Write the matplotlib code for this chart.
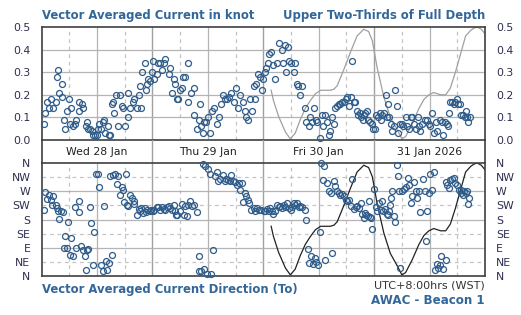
import matplotlib
matplotlib.use("Agg")
import matplotlib.pyplot as plt

# hours since Wed 28 Jan 2026 00:00 (WST)
spd_hours = [
    0.5, 0.7, 1.2, 1.5, 2.0, 2.5, 3.1, 3.3, 3.6, 3.8,
    4.4, 4.5, 4.9, 5.1, 5.6, 5.9, 6.2, 6.4, 6.9, 7.2,
    7.5, 8.0, 8.2, 8.7, 9.0, 9.6, 9.9, 10.1, 10.5, 10.9,
    11.2, 11.6, 11.9, 12.3, 12.5, 12.9, 13.2, 13.6, 13.8, 14.3,
    14.5, 14.8, 15.2, 15.4, 15.6, 16.1, 16.6, 16.9, 17.4, 17.7,
    18.1, 18.6, 18.8, 19.2, 19.7, 20.0, 20.6, 21.0, 21.2, 21.6,
    21.8, 22.3, 22.5, 22.8, 23.1, 23.5, 23.9, 24.2, 24.4, 24.9,
    25.3, 25.7, 26.0, 26.4, 26.8, 27.5, 27.8, 28.2, 28.6, 28.8,
    29.3, 29.6, 30.0, 30.4, 30.6, 31.1, 31.6, 31.8,
    32.4, 32.9, 33.1, 33.6, 34.0, 34.2, 34.6, 34.9, 35.2, 35.6,
    36.1, 36.5, 37.0, 37.4, 38.0, 38.5, 38.9, 39.3, 39.6, 40.1,
    40.5, 41.0, 41.6, 42.1, 42.6, 42.9, 43.5, 44.0, 44.3, 44.7,
    45.2, 45.5, 45.9, 46.1, 46.4, 46.8, 47.3, 47.7, 47.9, 48.3,
    48.6, 49.0, 49.3, 49.7, 50.2, 50.5, 51.0, 51.5, 52.0, 52.3,
    52.6, 52.9, 53.3, 53.6, 54.1, 54.6, 54.8, 55.3, 55.6, 56.0,
    56.4, 57.0, 57.2, 57.8, 58.2, 58.5, 58.9, 59.4, 59.7, 60.2,
    60.7, 60.9, 61.3, 61.8, 62.2, 62.5, 62.9, 63.2,
    63.6, 64.0, 64.3, 64.7, 65.1, 65.4, 65.8, 66.1, 66.5, 67.0,
    67.2, 67.6, 67.9, 68.2, 68.5, 68.9, 69.2, 69.5, 69.8, 70.1,
    70.5, 70.7, 71.2, 71.6, 71.8, 72.1, 72.5, 72.9, 73.2, 73.4,
    73.7, 74.1, 74.5, 74.7, 75.0, 75.2, 75.7, 75.9, 76.3, 76.5,
    77.0, 77.2, 77.7, 78.1, 78.3, 78.8, 79.2, 79.5, 79.9, 80.2,
    80.6, 81.0, 81.5, 81.7, 82.0, 82.4, 83.0, 83.5, 83.9, 84.2,
    84.6, 84.9, 85.3, 85.7, 86.2, 86.6, 87.0, 87.3, 87.7, 88.0,
    88.2, 88.5, 88.9, 89.3, 89.6, 89.9, 90.2, 90.6, 90.9, 91.3,
    91.6, 91.8, 92.2, 92.4, 92.7,
]
spd_knot = [
    0.07, 0.12, 0.17, 0.14, 0.18, 0.14, 0.17, 0.28, 0.31, 0.21,
    0.19, 0.25, 0.09, 0.05, 0.13, 0.18, 0.07, 0.14, 0.06, 0.07,
    0.09, 0.17, 0.13, 0.16, 0.14, 0.06, 0.08, 0.05, 0.05, 0.04,
    0.02, 0.02, 0.02, 0.05, 0.07, 0.05, 0.08, 0.09, 0.03, 0.06,
    0.02, 0.02, 0.16, 0.17, 0.12, 0.20, 0.06, 0.20, 0.15, 0.14,
    0.06, 0.10, 0.21, 0.14, 0.17, 0.18, 0.14, 0.20, 0.24, 0.14,
    0.30, 0.34, 0.22, 0.25, 0.27, 0.26, 0.30, 0.35, 0.27, 0.29,
    0.34, 0.34, 0.31, 0.34, 0.36, 0.29, 0.32, 0.21, 0.27, 0.25,
    0.18, 0.18, 0.22, 0.23, 0.28, 0.28, 0.17, 0.34,
    0.21, 0.23, 0.11, 0.05, 0.09, 0.16, 0.06, 0.03, 0.08, 0.08,
    0.10, 0.03, 0.13, 0.14, 0.07, 0.10, 0.16, 0.20, 0.18, 0.18,
    0.19, 0.21, 0.17, 0.23, 0.14, 0.20, 0.17, 0.13, 0.10, 0.09,
    0.18, 0.13, 0.24, 0.18, 0.25, 0.29, 0.28, 0.22, 0.27, 0.30,
    0.32, 0.34, 0.38, 0.39, 0.33, 0.27, 0.34, 0.43, 0.40, 0.34,
    0.42, 0.30, 0.41, 0.35, 0.34, 0.30, 0.34, 0.25, 0.24, 0.20,
    0.24, 0.14, 0.08, 0.06, 0.10, 0.08, 0.14, 0.09, 0.08, 0.01,
    0.11, 0.06, 0.11, 0.08, 0.02, 0.04, 0.10, 0.07,
    0.14, 0.15, 0.16, 0.16, 0.17, 0.17, 0.18, 0.19, 0.15, 0.19,
    0.35, 0.17, 0.17, 0.13, 0.11, 0.12, 0.10, 0.09, 0.11, 0.12,
    0.13, 0.09, 0.08, 0.07, 0.05, 0.05, 0.11, 0.10, 0.12, 0.09,
    0.11, 0.12, 0.20, 0.10, 0.16, 0.10, 0.07, 0.04, 0.06, 0.22,
    0.15, 0.03, 0.07, 0.07, 0.06, 0.10, 0.06, 0.05, 0.10, 0.10,
    0.07, 0.05, 0.10, 0.06, 0.04, 0.07, 0.09, 0.09, 0.07, 0.06,
    0.12, 0.03, 0.08, 0.04, 0.09, 0.08, 0.02, 0.08, 0.07, 0.06,
    0.12, 0.17, 0.17, 0.16, 0.17, 0.18, 0.16, 0.16, 0.11, 0.11,
    0.10, 0.13, 0.10, 0.08, 0.10,
]

dir_hours = [
    0.5, 0.7, 1.2, 1.5, 2.0, 2.2, 2.5, 3.1, 3.3, 3.6,
    3.8, 4.1, 4.6, 4.9, 5.1, 5.4, 5.8, 6.2, 6.4, 6.9,
    7.2, 7.5, 8.0, 8.2, 8.5, 8.9, 9.3, 9.6, 9.8, 10.1,
    10.5, 10.7, 11.2, 11.4, 11.8, 12.3, 12.4, 12.9, 13.2, 13.6,
    13.9, 14.2, 14.5, 14.9, 15.2, 15.5, 15.8, 16.3, 16.6, 16.9,
    17.4, 17.6, 17.9, 18.2, 18.4, 18.8, 19.2, 19.5, 19.9, 20.1,
    20.6, 21.0, 21.2, 21.5, 21.9, 22.3, 22.6, 22.9, 23.4, 23.7,
    24.1, 24.4, 24.9, 25.3, 25.7, 26.0, 26.4, 26.8, 27.1, 27.5,
    27.8, 28.2, 28.6, 28.9, 29.1, 29.4, 29.9, 30.4, 30.9, 31.1,
    31.5, 31.8, 32.2,
    32.5, 32.9, 33.6, 34.0, 34.1, 34.6, 34.9, 35.1, 35.4, 35.8,
    36.0, 36.5, 36.7, 37.2, 37.5, 38.0, 38.3, 38.7, 39.2, 39.6,
    39.9, 40.3, 40.7, 41.1, 41.4, 41.9, 42.3, 42.7, 43.0, 43.4,
    43.5, 44.0, 44.3, 44.7, 45.0, 45.4, 45.9, 46.3, 46.6, 47.0,
    47.6, 48.1, 48.4, 48.8, 49.2, 49.5, 49.9, 50.2, 50.6, 51.0,
    51.3, 51.7, 52.0, 52.4, 52.8, 53.1, 53.5, 53.9, 54.2, 54.6,
    54.9, 55.3, 55.7, 56.0, 56.4, 57.0, 57.3, 57.7, 58.0, 58.4,
    58.7, 59.1, 59.4, 59.9, 60.2, 60.6, 60.9, 61.1, 61.3, 61.8,
    62.2, 62.7, 62.9, 63.2,
    63.6, 64.0, 64.3, 64.7, 65.1, 65.4, 65.8, 66.1, 66.5, 66.9,
    67.2, 67.6, 68.0, 68.2, 68.7, 69.2, 69.4, 69.8, 70.0, 70.3,
    70.6, 70.8, 71.1, 71.4, 71.6, 71.9, 72.3, 72.6, 73.0, 73.4,
    73.7, 74.0, 74.3, 74.7, 75.0, 75.2, 75.5, 75.7, 75.9, 76.3,
    76.5, 77.0, 77.1, 77.4, 77.7, 78.1, 78.4, 78.8, 79.3, 79.5,
    79.9, 80.2, 80.6, 81.0, 81.3, 81.7, 82.0, 82.6, 83.1, 83.2,
    83.5, 83.9, 84.2, 84.6, 84.9, 85.1, 85.5, 85.9, 86.2, 86.5,
    87.0, 87.5, 87.6, 87.8, 88.2, 88.5, 88.9, 89.3, 89.6, 90.0,
    90.4, 90.7, 90.9, 91.2, 91.4, 91.8, 92.0, 92.3, 92.5,
]
dir_deg = [
    209, 268, 246, 257, 243, 227, 254, 227, 217, 206,
    183, 206, 204, 89, 126, 89, 172, 68, 121, 63,
    219, 89, 204, 238, 95, 82, 63, 18, 84, 87,
    219, 168, 34, 140, 325, 325, 282, 34, 15, 222,
    47, 18, 43, 318, 68, 321, 325, 293, 318, 257,
    284, 275, 236, 325, 227, 222, 257, 248, 238, 229,
    193, 215, 206, 217, 201, 217, 203, 211, 206, 211,
    208, 211, 219, 219, 211, 219, 215, 211, 219, 222,
    217, 211, 227, 206, 193, 193, 206, 230, 193, 222,
    190, 227, 238,
    222, 227, 204, 15, 63, 15, 357, 23, 349, 6,
    342, 325, 6, 84, 318, 331, 302, 310, 323, 304,
    310, 307, 302, 321, 304, 299, 291, 296, 275, 296,
    236, 264, 254, 243, 233, 211, 217, 206, 217, 211,
    211, 208, 206, 215, 208, 217, 206, 198, 206, 225,
    219, 222, 217, 227, 219, 233, 217, 211, 219, 233,
    225, 233, 219, 222, 219, 211, 177, 87, 41, 63,
    38, 57, 45, 34, 140, 360, 307, 349, 52, 296,
    272, 264, 73, 302,
    286, 270, 264, 259, 261, 254, 243, 238, 243, 222,
    310, 215, 219, 222, 217, 233, 198, 185, 201, 193,
    190, 238, 187, 185, 150, 278, 219, 206, 233, 211,
    238, 206, 215, 198, 193, 208, 227, 248, 270, 190,
    172, 355, 318, 270, 26, 272, 278, 282, 312, 291,
    233, 254, 299, 272, 248, 270, 204, 310, 272, 113,
    208, 264, 325, 275, 331, 20, 38, 26, 34, 63,
    23, 52, 299, 291, 280, 307, 310, 312, 296, 289,
    275, 264, 275, 259, 272, 264, 270, 229, 248,
]

# tide level, as a fraction of its plotted range
tide_hours = [
    49.7, 50.2, 51.3, 52.8, 53.85, 54.9, 56.0, 57.1, 58.2, 59.3,
    60.4, 61.4, 62.5, 63.3, 64.0, 65.4, 66.9, 68.3, 69.75, 70.8,
    71.6, 72.65, 74.1, 75.5, 77.0, 78.0, 78.8, 80.2, 81.7, 82.8,
    83.85, 84.9, 86.4, 87.5, 88.5, 89.6, 90.7, 91.8, 92.9, 93.6,
    94.3, 95.2, 96.0,
]
tide_frac = [
    0.44, 0.35, 0.21, 0.07, 0.01, 0.06, 0.18, 0.28, 0.35, 0.41,
    0.44, 0.44, 0.44, 0.45, 0.48, 0.62, 0.78, 0.92, 0.98, 0.96,
    0.88, 0.64, 0.38, 0.20, 0.09, 0.01, 0.03, 0.14, 0.28, 0.36,
    0.40, 0.42, 0.40, 0.40, 0.46, 0.60, 0.76, 0.92, 0.97, 0.99,
    1.00, 0.98, 0.94,
]

day_labels = ["Wed 28 Jan", "Thu 29 Jan", "Fri 30 Jan", "31 Jan 2026"]
spd_ticks = ["0.0", "0.1", "0.2", "0.3", "0.4", "0.5"]
dir_ticks = ["N", "NE", "E", "SE", "S", "SW", "W", "NW", "N"]

plt.rcParams['font.family'] = ['DejaVu Sans']

W, H = 521, 315
fig = plt.figure(figsize=(W / 100, H / 100), dpi=100)

def box(x0, y0, x1, y1):
    # pixel box (top-left origin) -> figure fraction rect
    return [x0 / W, 1 - y1 / H, (x1 - x0) / W, (y1 - y0) / H]

LEFT, RIGHT = 41.6, 485
ax1 = fig.add_axes(box(LEFT, 27, RIGHT, 140))
band = fig.add_axes(box(LEFT, 140, RIGHT, 163))
ax2 = fig.add_axes(box(LEFT, 163, RIGHT, 276))

blue = '#2f5c8a'
tick_col = '#2d2d50'
title_col = '#336699'
spine_col = '#404040'

def vgrid(ax):
    for d in range(4):
        m = d * 24
        ax.axvline(m + 6, color='#c4c4c4', lw=0.9, ls=(0, (3, 3)), zorder=0)
        ax.axvline(m + 12, color='#b4b4b4', lw=0.9, zorder=0)
        ax.axvline(m + 18, color='#c4c4c4', lw=0.9, ls=(0, (3, 3)), zorder=0)
        if d > 0:
            ax.axvline(m, color='#a0a0a0', lw=1.0, zorder=0)

for ax in (ax1, band, ax2):
    ax.set_xlim(0, 96)
    ax.set_xticks([])
    for s in ax.spines.values():
        s.set_color(spine_col)
        s.set_linewidth(1.2)

# speed panel
vgrid(ax1)
for v in [0.1, 0.2, 0.3, 0.4]:
    ax1.axhline(v, color='#b4b4b4', lw=0.9, zorder=0)
ax1.plot(tide_hours, [0.5 * f for f in tide_frac],
         color='#a0a0a0', lw=0.9, zorder=2)
ax1.plot(spd_hours, spd_knot, ls='none', marker='o', ms=4.3,
         mfc='none', mec=blue, mew=0.9, zorder=3, clip_on=False)
ax1.set_ylim(0, 0.5)
ax1.set_yticks([0, 0.1, 0.2, 0.3, 0.4, 0.5])
ax1.set_yticklabels(spd_ticks)

# date band
band.set_ylim(0, 1)
band.set_yticks([])
band.spines['top'].set_visible(False)
band.spines['bottom'].set_visible(False)
band.patch.set_alpha(0)
for d in range(1, 4):
    band.axvline(d * 24, color='#a0a0a0', lw=1.0)
for i, lab in enumerate(day_labels):
    band.text(i * 24 + 12, 0.5, lab, ha='center', va='center',
              fontsize=7.8, color='#222222')

# direction panel
vgrid(ax2)
for v in [90, 180, 270]:
    ax2.axhline(v, color='#b4b4b4', lw=0.9, zorder=0)
for v in [45, 135, 225, 315]:
    ax2.axhline(v, color='#c4c4c4', lw=0.9, ls=(0, (3, 3)), zorder=0)
ax2.plot(tide_hours, [360 * f for f in tide_frac],
         color='#222222', lw=0.9, zorder=2)
ax2.plot(dir_hours, dir_deg, ls='none', marker='o', ms=4.3,
         mfc='none', mec=blue, mew=0.9, zorder=3, clip_on=False)
ax2.set_ylim(0, 360)
ax2.set_yticks(range(0, 361, 45))
ax2.set_yticklabels(dir_ticks)

for ax in (ax1, ax2):
    ax.tick_params(axis='y', length=0, labelsize=7.8, labelcolor=tick_col,
                   pad=8, labelright=True, right=False)

# titles
fig.text(LEFT / W, 1 - 15 / H, "Vector Averaged Current in knot",
         ha='left', va='center', fontsize=8.4, fontweight='bold', color=title_col)
fig.text(RIGHT / W, 1 - 15 / H, "Upper Two-Thirds of Full Depth",
         ha='right', va='center', fontsize=8.4, fontweight='bold', color=title_col)
fig.text(LEFT / W, 1 - 289 / H, "Vector Averaged Current Direction (To)",
         ha='left', va='center', fontsize=8.4, fontweight='bold', color=title_col)
fig.text(RIGHT / W, 1 - 285 / H, "UTC+8:00hrs (WST)",
         ha='right', va='center', fontsize=8, color='#333333')
fig.text(RIGHT / W, 1 - 300 / H, "AWAC - Beacon 1",
         ha='right', va='center', fontsize=8.6, fontweight='bold', color=title_col)

fig.savefig("out.png", dpi=100)
